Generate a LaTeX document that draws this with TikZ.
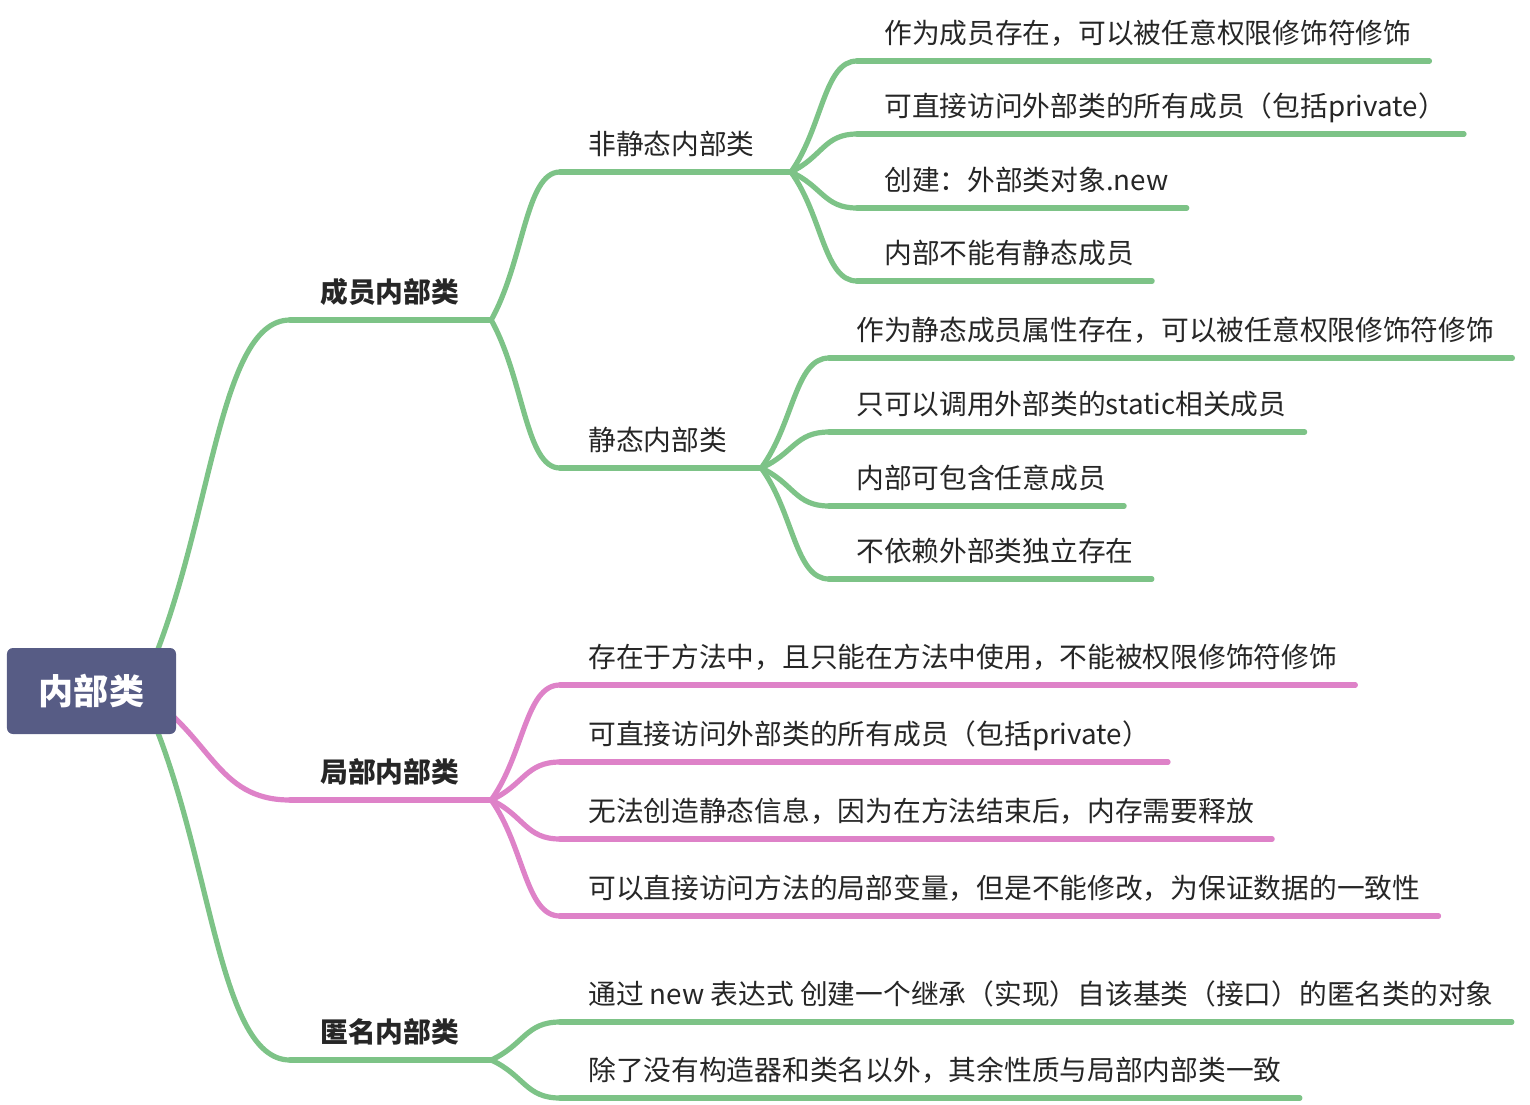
\documentclass[tikz,border=0pt]{standalone}
\usepackage{fontspec}
\setmainfont{Noto Sans CJK SC}
\usetikzlibrary{calc}
\definecolor{mapgreen}{RGB}{125,195,135}
\definecolor{mappink}{RGB}{222,130,200}
\definecolor{rootblue}{RGB}{87,92,133}
\definecolor{textgray}{RGB}{38,38,38}
\tikzset{
  branch/.style={line width=3.9pt,line cap=round},
  link/.style={branch,to path={let \p1=(\tikztostart),\p2=(\tikztotarget) in
    .. controls ({\x1+0.48*(\x2-\x1)},{\y1+0.4*(\y2-\y1)}) and ({\x2-0.5*(\x2-\x1)},\y2) .. (\tikztotarget)}},
  topic/.style={inner sep=0pt,anchor=base west,text=textgray,font=\fontsize{20.8}{25}\selectfont},
  maintopic/.style={topic,font=\fontsize{20.8}{25}\selectfont\bfseries},
}
\begin{document}
\begin{tikzpicture}[x=0.75pt,y=-0.75pt]
        \useasboundingbox (0,0) rectangle (1530,1104);
        % Hub behind the root box
        \coordinate (hub) at (140,691);
        % Draw main topics
        \node[maintopic] (m1) at (320,302) {成员内部类};
        \node[maintopic] (m2) at (320,782) {局部内部类};
        \node[maintopic] (m3) at (320,1042) {匿名内部类};
        \draw[branch,mapgreen] ($(m1.base west)+(-30,18)$) coordinate (m1-s) -- ($(m1.base east)+(32,18)$) coordinate (m1-e);
        \draw[branch,mappink] ($(m2.base west)+(-30,18)$) coordinate (m2-s) -- ($(m2.base east)+(32,18)$) coordinate (m2-e);
        \draw[branch,mapgreen] ($(m3.base west)+(-30,18)$) coordinate (m3-s) -- ($(m3.base east)+(32,18)$) coordinate (m3-e);
        \draw[link,mapgreen] (hub) to (m1-s);
        \draw[link,mappink] (hub) to (m2-s);
        \draw[link,mapgreen] (hub) to (m3-s);
        % Draw subtopics
        \node[topic] (s1) at (588,154) {非静态内部类};
        \node[topic] (s2) at (588,450) {静态内部类};
        \draw[branch,mapgreen] ($(s1.base west)+(-28,18)$) coordinate (s1-s) -- ($(s1.base east)+(36,18)$) coordinate (s1-e);
        \draw[branch,mapgreen] ($(s2.base west)+(-28,18)$) coordinate (s2-s) -- ($(s2.base east)+(34,18)$) coordinate (s2-e);
        \draw[link,mapgreen] (m1-e) to (s1-s);
        \draw[link,mapgreen] (m1-e) to (s2-s);
        % Leaves of the non-static inner class
        \foreach \i/\yb/\txt in {1/43/{作为成员存在，可以被任意权限修饰符修饰},
                                 2/116/{可直接访问外部类的所有成员（包括private）},
                                 3/190/{创建：外部类对象.new},
                                 4/263/{内部不能有静态成员}}{
            \node[topic] (a\i) at (884,\yb) {\txt};
            \draw[branch,mapgreen] ($(a\i.base west)+(-27,18)$) coordinate (a\i-s) -- ($(a\i.base east)+(18,18)$);
            \draw[link,mapgreen] (s1-e) to (a\i-s);
        }
        % Leaves of the static inner class
        \foreach \i/\yb/\txt in {1/340/{作为静态成员属性存在，可以被任意权限修饰符修饰},
                                 2/414/{只可以调用外部类的static相关成员},
                                 3/488/{内部可包含任意成员},
                                 4/561/{不依赖外部类独立存在}}{
            \node[topic] (b\i) at (856,\yb) {\txt};
            \draw[branch,mapgreen] ($(b\i.base west)+(-27,18)$) coordinate (b\i-s) -- ($(b\i.base east)+(18,18)$);
            \draw[link,mapgreen] (s2-e) to (b\i-s);
        }
        % Leaves of the local inner class
        \foreach \i/\yb/\txt in {1/667/{存在于方法中，且只能在方法中使用，不能被权限修饰符修饰},
                                 2/744/{可直接访问外部类的所有成员（包括private）},
                                 3/821/{无法创造静态信息，因为在方法结束后，内存需要释放},
                                 4/898/{可以直接访问方法的局部变量，但是不能修改，为保证数据的一致性}}{
            \node[topic] (c\i) at (588,\yb) {\txt};
            \draw[branch,mappink] ($(c\i.base west)+(-28,18)$) coordinate (c\i-s) -- ($(c\i.base east)+(18,18)$);
            \draw[link,mappink] (m2-e) to (c\i-s);
        }
        % Leaves of the anonymous inner class
        \foreach \i/\yb/\txt in {1/1004/{通过 new 表达式 创建一个继承（实现）自该基类（接口）的匿名类的对象},
                                 2/1080/{除了没有构造器和类名以外，其余性质与局部内部类一致}}{
            \node[topic] (d\i) at (588,\yb) {\txt};
            \draw[branch,mapgreen] ($(d\i.base west)+(-28,18)$) coordinate (d\i-s) -- ($(d\i.base east)+(18,18)$);
            \draw[link,mapgreen] (m3-e) to (d\i-s);
        }
        % Root box on top
        \node[fill=rootblue,rounded corners=4.5pt,minimum width=126.8pt,minimum height=64.5pt,inner sep=0pt,
              text=white,font=\fontsize{26.3}{30}\selectfont\bfseries] (root) at (91.5,691) {内部类};
\end{tikzpicture}
\end{document}
